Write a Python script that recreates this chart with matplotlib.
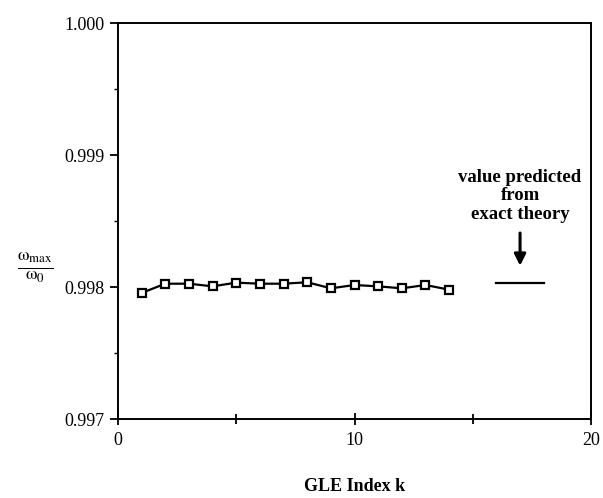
import numpy as np
import matplotlib
matplotlib.use("Agg")
from matplotlib import pyplot as plt
from matplotlib.ticker import MultipleLocator

plt.rcParams['font.family'] = ['Liberation Serif', 'DejaVu Serif']
plt.rcParams['mathtext.fontset'] = 'stix'

# GLE results
k_index = [1, 2, 3, 4, 5, 6, 7, 8, 9, 10, 11, 12, 13, 14]
ratio = [0.997955, 0.998025, 0.998025, 0.998005, 0.998033, 0.998025, 0.998025,
         0.998036, 0.997990, 0.998015, 0.998005, 0.997990, 0.998015, 0.997980]
# exact theory value
theory_k = [16, 18]
theory_val = [0.998030, 0.998030]

fig = plt.figure(figsize=(6.03, 4.98), dpi=100)
ax = fig.add_axes([118 / 603, 1 - 419 / 498, 473 / 603, 396 / 498])

ax.plot(k_index, ratio, color='black', lw=1.6, marker='s', ms=6,
        mfc='white', mec='black', mew=1.6)
ax.plot(theory_k, theory_val, color='black', lw=1.6)

ax.set_xlim(0, 20)
ax.set_ylim(0.997, 1.000)
ax.set_xticks([0, 10, 20])
ax.xaxis.set_minor_locator(MultipleLocator(5))
ax.set_yticks([0.997, 0.998, 0.999, 1.000])
ax.set_yticklabels(['0.997', '0.998', '0.999', '1.000'])
ax.yaxis.set_minor_locator(MultipleLocator(0.0005))

ax.tick_params(axis='x', which='both', direction='inout', top=False, labelsize=13, pad=5)
ax.tick_params(axis='x', which='major', length=9, width=1.3)
ax.tick_params(axis='x', which='minor', length=7, width=1.3)
ax.tick_params(axis='y', which='both', direction='out', right=False, labelsize=13)
ax.tick_params(axis='y', which='major', length=6, width=1.3)
ax.tick_params(axis='y', which='minor', length=3, width=1.0)
for s in ax.spines.values():
    s.set_linewidth(1.4)

ax.set_xlabel('GLE Index k', fontsize=13, fontweight='bold', labelpad=21)
fig.text(35 / 603, 1 - 268 / 498, r'$\frac{\mathrm{ω_{max}}}{\mathrm{ω_0}}$',
         fontsize=19, ha='center', va='center')

ax.text(17, 0.99869, 'value predicted\nfrom\nexact theory', ha='center', va='center',
        fontsize=13.5, fontweight='bold', linespacing=1.12)
ax.annotate('', xy=(17, 0.99814), xytext=(17, 0.99843),
            arrowprops=dict(arrowstyle='-|>', color='black', lw=2.2, mutation_scale=17))

fig.savefig('out.png', dpi=100)
